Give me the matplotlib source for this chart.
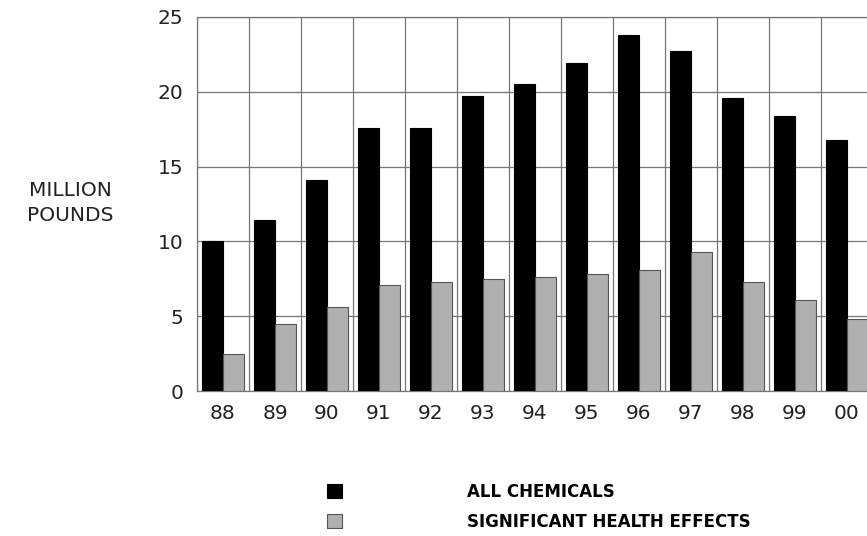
import matplotlib
matplotlib.use("Agg")
import matplotlib.pyplot as plt
import numpy as np

plt.rcParams['font.family'] = ['DejaVu Sans']

years = ["88", "89", "90", "91", "92", "93", "94", "95", "96", "97", "98", "99", "00"]
all_chemicals = [10.0, 11.4, 14.1, 17.6, 17.6, 19.7, 20.5, 21.9, 23.8, 22.7, 19.6, 18.4, 16.8]
health_effects = [2.5, 4.5, 5.6, 7.1, 7.3, 7.5, 7.6, 7.8, 8.1, 9.3, 7.3, 6.1, 4.8]
yticks = [0, 5, 10, 15, 20, 25]

fig = plt.figure(figsize=(8.67, 5.36), dpi=100)
ax = fig.add_axes([0.2272, 0.2705, 0.7797, 0.6978])

x = np.arange(len(years))
w = 0.41
b1 = ax.bar(x - w / 2, all_chemicals, width=w, color='black', edgecolor='black', linewidth=0.8, zorder=3)
b2 = ax.bar(x + w / 2, health_effects, width=w, color='#b0b0b0', edgecolor='#555555', linewidth=0.8, zorder=3)

ax.set_xlim(-0.5, len(years) - 0.5)
ax.set_ylim(0, 25)
ax.set_yticks(yticks)
ax.set_yticklabels([str(t) for t in yticks])
ax.set_xticks(x)
ax.set_xticklabels(years)
ax.set_xticks(np.arange(len(years) + 1) - 0.5, minor=True)
ax.tick_params(axis='both', which='both', length=0, labelsize=14.5, colors='#222222')
ax.tick_params(axis='y', pad=10)
ax.tick_params(axis='x', pad=9)
ax.yaxis.grid(True, color='#777777', linewidth=0.9, zorder=0)
ax.xaxis.grid(True, which='minor', color='#777777', linewidth=0.9, zorder=0)
ax.xaxis.grid(False, which='major')
for s in ax.spines.values():
    s.set_color('#777777')
    s.set_linewidth(0.9)

fig.text(0.081, 0.621, "MILLION\nPOUNDS", ha='center', va='center', fontsize=14.5,
         multialignment='center', color='#222222', linespacing=1.4)

fig.legend([b1, b2], ["ALL CHEMICALS", "SIGNIFICANT HEALTH EFFECTS"],
           loc='upper left', bbox_to_anchor=(0.3594, 0.1275), frameon=False,
           handlelength=0.9, handleheight=0.9, handletextpad=7.5,
           labelspacing=0.72, prop={'weight': 'bold', 'size': 12})

fig.savefig("out.png", dpi=100)
